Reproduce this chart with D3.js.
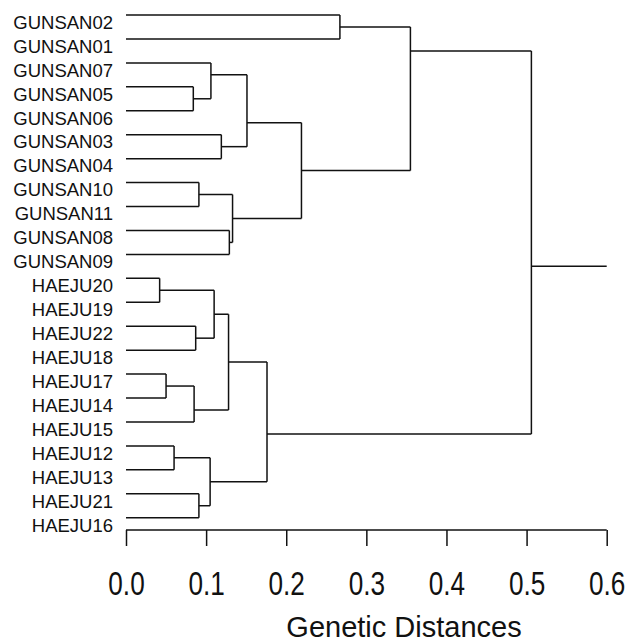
<!DOCTYPE html>
<html>
<head>
<meta charset="utf-8">
<script src="https://cdn.jsdelivr.net/npm/d3@7"></script>
<style>
  html, body { margin: 0; padding: 0; background: #fff; }
  svg { display: block; }
</style>
</head>
<body>
<svg id="chart" width="640" height="642"></svg>
<script>
// ---- data ----
const leaves = ["GUNSAN02","GUNSAN01","GUNSAN07","GUNSAN05","GUNSAN06","GUNSAN03","GUNSAN04",
  "GUNSAN10","GUNSAN11","GUNSAN08","GUNSAN09",
  "HAEJU20","HAEJU19","HAEJU22","HAEJU18","HAEJU17","HAEJU14","HAEJU15",
  "HAEJU12","HAEJU13","HAEJU21","HAEJU16"];
// merges: node id, first child, second child, distance
const mergeIds    = ["n1","n2","n3","n4","n5","n6","n7","n8","n9","n10",
                     "n11","n12","n13","n14","n15","n16","n17","n18","n19","n20","n21"];
const mergeFirst  = ["GUNSAN05","GUNSAN07","GUNSAN03","n2","GUNSAN10","GUNSAN08","n5","n4","GUNSAN02","n9",
                     "HAEJU20","HAEJU22","n11","HAEJU17","n14","n13","HAEJU12","HAEJU21","n17","n16","n10"];
const mergeSecond = ["GUNSAN06","n1","GUNSAN04","n3","GUNSAN11","GUNSAN09","n6","n7","GUNSAN01","n8",
                     "HAEJU19","HAEJU18","n12","HAEJU14","HAEJU15","n15","HAEJU13","HAEJU16","n18","n19","n20"];
const mergeHeight = [0.084,0.106,0.119,0.151,0.091,0.129,0.133,0.219,0.267,0.355,
                     0.042,0.087,0.110,0.050,0.085,0.128,0.060,0.091,0.105,0.176,0.506];
const axisTicks = [0.0,0.1,0.2,0.3,0.4,0.5,0.6];
const axisTitle = "Genetic Distances";

// ---- scales ----
const svg = d3.select("#chart");
const x = d3.scaleLinear().domain([0, 0.6]).range([126, 606.7]);
const yIdx = d3.scaleLinear().domain([0, leaves.length - 1]).range([15, 517.7]);

// ---- layout: node positions ----
const nodes = {};
leaves.forEach((name, i) => { nodes[name] = { h: 0, yi: i, last: i }; });
mergeIds.forEach((id, k) => {
  const a = nodes[mergeFirst[k]], b = nodes[mergeSecond[k]];
  nodes[id] = { h: mergeHeight[k], yi: a.last + 0.5, last: b.last, a, b };
});

const stroke = "#111", sw = 1.5;
const g = svg.append("g").attr("fill", "none").attr("stroke", stroke).attr("stroke-width", sw);
function line(x1, y1, x2, y2) {
  g.append("line").attr("x1", x1).attr("y1", y1).attr("x2", x2).attr("y2", y2);
}
mergeIds.forEach(id => {
  const n = nodes[id];
  const xn = x(n.h);
  [n.a, n.b].forEach(c => line(x(c.h), yIdx(c.yi), xn, yIdx(c.yi)));
  line(xn, yIdx(n.a.yi), xn, yIdx(n.b.yi));
});
// root stub
const root = nodes[mergeIds[mergeIds.length - 1]];
line(x(root.h), yIdx(root.yi), x(0.6), yIdx(root.yi));

// ---- leaf labels ----
svg.append("g").selectAll("text").data(leaves).join("text")
  .attr("x", 113)
  .attr("y", (d, i) => yIdx(i) + 13.8)
  .attr("text-anchor", "end")
  .attr("font-family", "Liberation Sans, Arial, sans-serif")
  .attr("font-size", "18.5px")
  .attr("fill", "#111")
  .text(d => d);

// ---- axis ----
const axis = d3.axisBottom(x).tickValues(axisTicks).tickFormat(d3.format(".1f"))
  .tickSize(16).tickPadding(25.5);
const ag = svg.append("g").attr("transform", "translate(0,530)").call(axis);
ag.select(".domain").attr("stroke", stroke).attr("stroke-width", sw).attr("d", `M${x(0)},0H${x(0.6)}`);
ag.selectAll(".tick line").attr("stroke", stroke).attr("stroke-width", sw);
ag.selectAll(".tick text")
  .attr("font-family", "Liberation Sans, Arial, sans-serif")
  .attr("font-size", "33.5px")
  .attr("fill", "#111")
  .attr("transform", "scale(0.78,1)");

svg.append("text")
  .attr("x", 404).attr("y", 636.5)
  .attr("text-anchor", "middle")
  .attr("font-family", "Liberation Sans, Arial, sans-serif")
  .attr("font-size", "29px")
  .attr("fill", "#111")
  .text(axisTitle);
</script>
</body>
</html>
